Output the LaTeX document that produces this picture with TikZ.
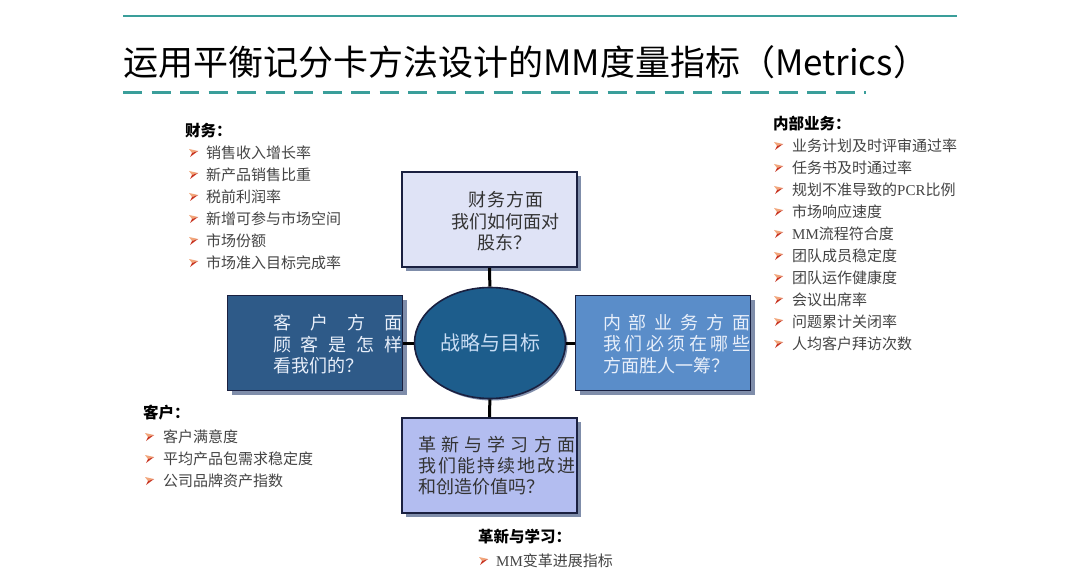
\documentclass[tikz,border=0pt]{standalone}
\usepackage{fontspec}
\setmainfont{Noto Sans CJK SC}
\newfontfamily\serifl{Liberation Serif}
\usetikzlibrary{shapes.geometric,shadows}
\definecolor{tealc}{HTML}{3A9E9A}
\definecolor{boxline}{HTML}{1A2040}
\definecolor{shadowc}{HTML}{7F8DAA}
\definecolor{topfill}{HTML}{DFE3F6}
\definecolor{leftfill}{HTML}{2E5A88}
\definecolor{rightfill}{HTML}{5A8DC9}
\definecolor{botfill}{HTML}{B3BDF0}
\definecolor{ellfill}{HTML}{1D5D8C}
\definecolor{elltext}{HTML}{C9DDF4}
\definecolor{lighttext}{HTML}{E8EFFA}
\definecolor{darktext}{HTML}{333333}
\definecolor{itemtext}{HTML}{444444}
\definecolor{bulA}{HTML}{F2A57A}
\definecolor{bulB}{HTML}{C8321E}
\begin{document}
\begin{tikzpicture}[x=1pt,y=-1pt,
  box/.style={draw=boxline, line width=1.6pt, minimum width=175pt, minimum height=95pt, inner sep=0pt,
    drop shadow={shadow xshift=4pt, shadow yshift=-4pt, fill=shadowc, opacity=1}},
  conn/.style={draw=black, line width=3pt},
  boxtxt/.style={anchor=west, inner sep=0pt, font=\fontsize{18}{21}\selectfont},
  ctrtxt/.style={inner sep=0pt, font=\fontsize{18}{21}\selectfont},
  hdr/.style={anchor=west, inner sep=0pt, font=\fontsize{15.5}{18}\selectfont\bfseries, text=black},
  item/.style={anchor=west, inner sep=0pt, font=\fontsize{15}{17}\selectfont, text=itemtext},
  bul/.pic={
    \fill[bulA] (-4,-4) -- (5,-2) -- (-1,0) -- cycle;
    \fill[bulB] (-3,4) -- (5,-2) -- (-1,0) -- cycle;
  }
]
\fill[white] (0,0) rectangle (1080,583);
\useasboundingbox (0,0) rectangle (1080,583);

% title rules
\coordinate (tl1) at (123,16);
\coordinate (tl2) at (957,16);
\draw[tealc, line width=1.5pt] (tl1) -- (tl2);
\coordinate (dl1) at (123,93);
\coordinate (dl2) at (866,93);
\draw[tealc, line width=3pt, dash pattern=on 19pt off 9.5pt] (dl1) -- (dl2);
\node[anchor=west, inner sep=0pt, font=\fontsize{35}{40}\selectfont] (title) at (123,62)
  {运用平衡记分卡方法设计的MM度量指标（Metrics）};

% boxes
\node[box, fill=topfill] (top) at (489.5,219.5) {};
\node[box, fill=leftfill] (left) at (315,343) {};
\node[box, fill=rightfill] (right) at (663,343) {};
\node[box, fill=botfill] (bot) at (489.5,465.5) {};
\node[ellipse, draw=boxline, line width=1.6pt, fill=ellfill, minimum width=151pt, minimum height=111pt,
  drop shadow={shadow xshift=2pt, shadow yshift=-2pt, fill=shadowc, opacity=1},
  text=elltext, font=\fontsize{20}{24}\selectfont] (ell) at (490,343) {战略与目标};

% connectors
\draw[conn] (top) -- (ell);
\draw[conn] (ell) -- (bot);
\draw[conn] (left) -- (ell);
\draw[conn] (ell) -- (right);

% top box text
\node[ctrtxt, text=darktext] (t1) at (506,200) {财\hspace{1pt}务\hspace{1pt}方\hspace{1pt}面};
\node[ctrtxt, text=darktext] (t2) at (505,222) {我们如何面对};
\node[ctrtxt, text=darktext] (t3) at (504,243) {股东？};

% left box text
\node[boxtxt, text=lighttext] (l1) at (273,323) {\makebox[129pt]{客\hfill 户\hfill 方\hfill 面}};
\node[boxtxt, text=lighttext] (l2) at (273,345) {\makebox[129pt]{顾\hfill 客\hfill 是\hfill 怎\hfill 样}};
\node[boxtxt, text=lighttext] (l3) at (273,366) {看我们的？};

% right box text
\node[boxtxt, text=lighttext] (r1) at (603,323) {\makebox[147pt]{内\hfill 部\hfill 业\hfill 务\hfill 方\hfill 面}};
\node[boxtxt, text=lighttext] (r2) at (603,344) {\makebox[147pt]{我\hfill 们\hfill 必\hfill 须\hfill 在\hfill 哪\hfill 些}};
\node[boxtxt, text=lighttext] (r3) at (603,366) {方面胜人一筹？};

% bottom box text
\node[boxtxt, text=darktext] (b1) at (418,445) {\makebox[157pt]{革\hfill 新\hfill 与\hfill 学\hfill 习\hfill 方\hfill 面}};
\node[boxtxt, text=darktext] (b2) at (418,466) {\makebox[157pt]{我\hfill 们\hfill 能\hfill 持\hfill 续\hfill 地\hfill 改\hfill 进}};
\node[boxtxt, text=darktext] (b3) at (418,487) {和创造价值吗？};

% finance list
\node[hdr] (fin) at (185,131) {财务：};
\foreach \t [count=\i] in {销售收入增长率, 新产品销售比重, 税前利润率, 新增可参与市场空间, 市场份额, 市场准入目标完成率} {
  \pic at (193,{131+22*\i}) {bul};
  \node[item] (fin\i) at (206,{131+22*\i}) {\t};
}

% internal business list
\node[hdr] (intl) at (773,124) {内部业务：};
\foreach \t [count=\i] in {业务计划及时评审通过率, 任务书及时通过率, {规划不准导致的{\serifl PCR}比例}, 市场响应速度, {{\serifl MM}流程符合度}, 团队成员稳定度, 团队运作健康度, 会议出席率, 问题累计关闭率, 人均客户拜访次数} {
  \pic at (778,{124+22*\i}) {bul};
  \node[item] (intl\i) at (792,{124+22*\i}) {\t};
}

% customer list
\node[hdr] (cus) at (143,413) {客户：};
\foreach \t [count=\i] in {客户满意度, 平均产品包需求稳定度, 公司品牌资产指数} {
  \pic at (149,{415+22*\i}) {bul};
  \node[item] (cus\i) at (163,{415+22*\i}) {\t};
}

% innovation list
\node[hdr] (inn) at (478,537) {革新与学习：};
\pic at (483,561) {bul};
\node[item] (inn1) at (496,561) {{\serifl MM}变革进展指标};
\end{tikzpicture}
\end{document}
